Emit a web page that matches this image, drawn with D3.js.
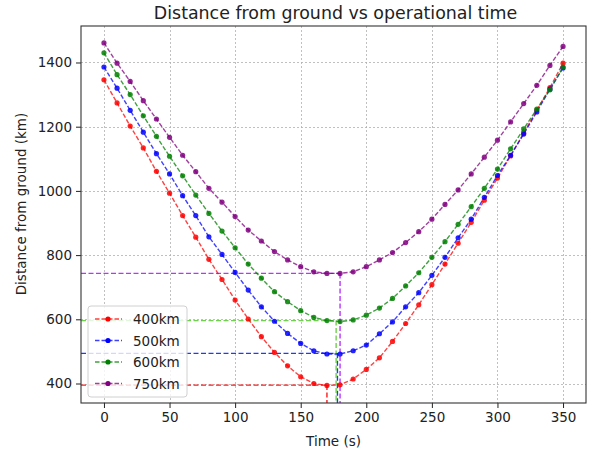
<!DOCTYPE html>
<html>
<head>
<meta charset="utf-8">
<script src="https://cdn.jsdelivr.net/npm/d3@7"></script>
<style>
  body { margin: 0; background: #fff; }
  text { font-family: "DejaVu Sans", sans-serif; fill: #222; }
</style>
</head>
<body>
<div id="chart"></div>
<script>
// time samples (s)
const times = d3.range(0, 351, 10);

// distance from ground (km)
const series400 = [1346, 1274, 1202, 1134, 1061, 993, 923, 856, 787, 724, 660, 601, 546, 497, 455, 421, 400, 394, 396, 414, 444, 480, 531, 587, 645, 708, 772, 837, 902, 971, 1040, 1109, 1180, 1252, 1322, 1398];
const series500 = [1386, 1320, 1251, 1183, 1116, 1053, 985, 923, 857, 802, 746, 691, 639, 594, 556, 525, 502, 492, 492, 502, 520, 555, 592, 639, 683, 737, 793, 854, 912, 980, 1048, 1111, 1177, 1246, 1317, 1383];
const series600 = [1430, 1362, 1300, 1234, 1170, 1108, 1047, 987, 930, 875, 823, 772, 728, 686, 655, 627, 606, 596, 593, 598, 613, 635, 665, 704, 745, 793, 842, 896, 951, 1008, 1068, 1131, 1193, 1255, 1315, 1386];
const series750 = [1461, 1398, 1341, 1281, 1224, 1167, 1111, 1060, 1008, 965, 920, 878, 844, 811, 785, 764, 748, 743, 743, 748, 764, 785, 808, 839, 873, 912, 958, 1003, 1053, 1105, 1158, 1215, 1272, 1329, 1391, 1450];

const seriesNames = ["400km", "500km", "600km", "750km"];
const seriesColors = ["#ff0000", "#0000ff", "#008000", "#800080"];
const minLineColors = ["#ff1a1a", "#1a3cff", "#70d050", "#bb33ff"];

// minimum points (time, distance) marked by the reference lines
const minTimes = [170, 178, 177, 180];
const minValues = [395, 494, 596, 743];

const xTicks = [0, 50, 100, 150, 200, 250, 300, 350];
const yTicks = [400, 600, 800, 1000, 1200, 1400];

const W = 591, H = 455;
const plot = { left: 81, right: 586, top: 26, bottom: 403 };

const svg = d3.select("#chart").append("svg")
    .attr("width", W)
    .attr("height", H);

const x = d3.scaleLinear().domain([-17.5, 367.5]).range([plot.left, plot.right]);
const y = d3.scaleLinear().domain([339.3, 1513.7]).range([plot.bottom, plot.top]);
const snap = v => Math.round(v) + 0.5;

// grid
svg.append("g").selectAll("line").data(xTicks).join("line")
    .attr("x1", d => snap(x(d))).attr("x2", d => snap(x(d)))
    .attr("y1", plot.top).attr("y2", plot.bottom)
    .attr("stroke", "#b0b0b0").attr("stroke-width", 0.8)
    .attr("stroke-dasharray", "2,2");
svg.append("g").selectAll("line").data(yTicks).join("line")
    .attr("y1", d => snap(y(d))).attr("y2", d => snap(y(d)))
    .attr("x1", plot.left).attr("x2", plot.right)
    .attr("stroke", "#b0b0b0").attr("stroke-width", 0.8)
    .attr("stroke-dasharray", "2,2");

// axes
const xAxis = svg.append("g")
    .attr("transform", `translate(0,${plot.bottom})`)
    .call(d3.axisBottom(x).tickValues(xTicks).tickFormat(d3.format("d")).tickSize(5).tickPadding(4).tickSizeOuter(0));
const yAxis = svg.append("g")
    .attr("transform", `translate(${plot.left},0)`)
    .call(d3.axisLeft(y).tickValues(yTicks).tickFormat(d3.format("d")).tickSize(5).tickPadding(4).tickSizeOuter(0));
[xAxis, yAxis].forEach(g => {
    g.select(".domain").remove();
    g.selectAll("text").style("font-size", "13.5px").style("font-family", "DejaVu Sans").attr("fill", "#222");
    g.selectAll("line").attr("stroke", "#222");
});

// reference lines to the minimum of every series
const seriesData = [series400, series500, series600, series750];
seriesData.forEach((vals, i) => {
    svg.append("line")
        .attr("x1", plot.left).attr("x2", x(minTimes[i]))
        .attr("y1", y(minValues[i])).attr("y2", y(minValues[i]))
        .attr("stroke", minLineColors[i]).attr("stroke-width", 1.4)
        .attr("stroke-dasharray", "5,2.5");
    svg.append("line")
        .attr("x1", x(minTimes[i])).attr("x2", x(minTimes[i]))
        .attr("y1", y(minValues[i])).attr("y2", plot.bottom)
        .attr("stroke", minLineColors[i]).attr("stroke-width", 1.4)
        .attr("stroke-dasharray", "5,2.5");
});

// series
const line = d3.line().x((d, i) => x(times[i])).y(d => y(d));
seriesData.forEach((vals, i) => {
    const g = svg.append("g");
    g.append("path")
        .attr("d", line(vals))
        .attr("fill", "none")
        .attr("stroke", seriesColors[i])
        .attr("stroke-opacity", 0.75)
        .attr("stroke-width", 1.4)
        .attr("stroke-dasharray", "4.5,2");
    g.selectAll("circle").data(vals).join("circle")
        .attr("cx", (d, j) => x(times[j]))
        .attr("cy", d => y(d))
        .attr("r", 2.6)
        .attr("fill", seriesColors[i])
        .attr("fill-opacity", 0.85);
});

// frame
svg.append("rect")
    .attr("x", plot.left).attr("y", plot.top)
    .attr("width", plot.right - plot.left).attr("height", plot.bottom - plot.top)
    .attr("fill", "none").attr("stroke", "#333").attr("stroke-width", 1.1);

// legend
const legend = svg.append("g").attr("transform", "translate(88,306)");
legend.append("rect")
    .attr("width", 99).attr("height", 91).attr("rx", 3)
    .attr("fill", "#fff").attr("fill-opacity", 0.8)
    .attr("stroke", "#d0d0d0").attr("stroke-width", 1);
const items = legend.selectAll("g.item").data(seriesNames).join("g")
    .attr("class", "item")
    .attr("transform", (d, i) => `translate(0,${13 + i * 21.5})`);
items.append("line")
    .attr("x1", 7).attr("x2", 34).attr("y1", 0).attr("y2", 0)
    .attr("stroke", (d, i) => seriesColors[i]).attr("stroke-opacity", 0.75)
    .attr("stroke-width", 1.4).attr("stroke-dasharray", "4.5,2");
items.append("circle")
    .attr("cx", 20).attr("cy", 0).attr("r", 2.6)
    .attr("fill", (d, i) => seriesColors[i]);
items.append("text")
    .attr("x", 45).attr("y", 5)
    .style("font-size", "13.5px")
    .text(d => d);

// titles
svg.append("text")
    .attr("x", (plot.left + plot.right) / 2 + 2).attr("y", 19)
    .attr("text-anchor", "middle")
    .style("font-size", "17.4px")
    .text("Distance from ground vs operational time");
svg.append("text")
    .attr("x", (plot.left + plot.right) / 2).attr("y", 446)
    .attr("text-anchor", "middle")
    .style("font-size", "13.5px")
    .text("Time (s)");
svg.append("text")
    .attr("transform", "translate(26,204) rotate(-90)")
    .attr("text-anchor", "middle")
    .style("font-size", "13.5px")
    .text("Distance from ground (km)");
</script>
</body>
</html>
